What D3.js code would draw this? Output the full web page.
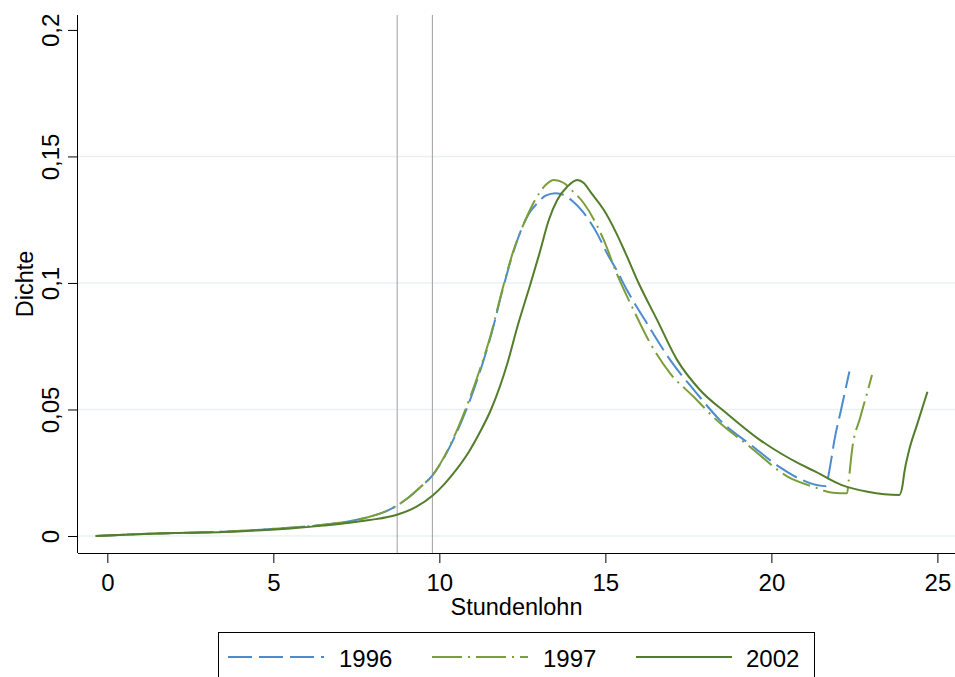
<!DOCTYPE html>
<html>
<head>
<meta charset="utf-8">
<script src="https://cdn.jsdelivr.net/npm/d3@7"></script>
<style>
  body { margin: 0; background: #fff; }
  text { font-family: "Liberation Sans", Arial, sans-serif; fill: #000; }
</style>
</head>
<body>
<div id="chart"></div>
<script>
const width = 955;
const height = 677;

// kernel density estimates
const years = ["1996", "1997", "2002"];
const colors = ["#4b8bce", "#7b9e3b", "#527d2a"];
const dashes = ["24,7", "30,6,2,6", null];

const wage1996 = [-0.35, 0.5, 1.5, 2.5, 3.5, 4.5, 5.5, 6.5, 7.3, 7.9, 8.5, 9.0, 9.4, 9.8, 10.4, 10.8, 11.2, 11.55, 11.9, 12.2, 12.45, 12.7, 12.95, 13.2, 13.5, 13.75, 14.0, 14.3, 14.75, 15.05, 15.3, 15.65, 16.25, 16.95, 17.75, 18.45, 19.45, 20.25, 20.65, 21.1, 21.65, 21.72, 21.8, 21.9, 22.1, 22.35];
const dens1996 = [0, 0.0005, 0.001, 0.0013, 0.0017, 0.0024, 0.0033, 0.0044, 0.0058, 0.0076, 0.0104, 0.0145, 0.019, 0.0241, 0.0375, 0.0495, 0.064, 0.079, 0.097, 0.111, 0.1205, 0.1275, 0.1315, 0.1345, 0.1355, 0.1348, 0.1325, 0.1285, 0.1196, 0.1117, 0.106, 0.0972, 0.0841, 0.0696, 0.0564, 0.0458, 0.0353, 0.0272, 0.024, 0.0212, 0.0197, 0.024, 0.03, 0.038, 0.05, 0.065];

const wage1997 = [-0.35, 0.5, 1.5, 2.5, 3.5, 4.5, 5.5, 6.5, 7.3, 7.9, 8.5, 9.0, 9.4, 9.8, 10.4, 10.8, 11.2, 11.55, 11.9, 12.2, 12.55, 12.85, 13.2, 13.45, 13.75, 14.0, 14.35, 14.95, 15.35, 15.85, 16.35, 16.95, 17.65, 18.35, 19.35, 20.5, 21.25, 21.85, 22.28, 22.33, 22.43, 22.68, 22.88, 23.03];
const dens1997 = [0, 0.0005, 0.001, 0.0013, 0.0017, 0.0024, 0.0033, 0.0044, 0.0058, 0.0076, 0.0104, 0.0145, 0.019, 0.0241, 0.038, 0.0505, 0.065, 0.0795, 0.0975, 0.1115, 0.1236, 0.132, 0.1387, 0.1407, 0.1395, 0.1365, 0.1315, 0.117, 0.1035, 0.0893, 0.0762, 0.0643, 0.0551, 0.0458, 0.0353, 0.0234, 0.0195, 0.0171, 0.0169, 0.022, 0.034, 0.047, 0.0564, 0.0636];

const wage2002 = [-0.35, 0.5, 1.5, 2.5, 3.5, 4.5, 5.5, 6.5, 7.3, 7.9, 8.7, 9.3, 9.8, 10.15, 10.5, 10.9, 11.2, 11.55, 12.05, 12.35, 12.75, 13.0, 13.3, 13.55, 13.85, 14.15, 14.35, 14.55, 14.95, 15.3, 15.6, 16.0, 16.55, 17.15, 17.85, 18.65, 19.65, 20.3, 20.85, 21.3, 22.1, 22.9, 23.85, 23.95, 24.0, 24.15, 24.4, 24.7];
const dens2002 = [0, 0.0005, 0.001, 0.0013, 0.0016, 0.0022, 0.003, 0.0041, 0.0052, 0.0063, 0.0083, 0.0115, 0.016, 0.0205, 0.026, 0.0335, 0.0405, 0.0498, 0.0683, 0.0827, 0.0999, 0.111, 0.125, 0.1328, 0.138, 0.1407, 0.1395, 0.136, 0.1289, 0.1205, 0.112, 0.1, 0.0856, 0.0698, 0.0577, 0.0485, 0.038, 0.0325, 0.0285, 0.0256, 0.0202, 0.0175, 0.0162, 0.02, 0.0248, 0.034, 0.0445, 0.057];

const xTicks = [0, 5, 10, 15, 20, 25];
const yTicks = [0, 0.05, 0.1, 0.15, 0.2];
const yGrid = [0, 0.05, 0.1, 0.15];
const refLines = [8.73, 9.79];

const wages = [wage1996, wage1997, wage2002];
const dens = [dens1996, dens1997, dens2002];

const plotL = 78, plotR = 955, plotT = 15, plotB = 553;

const svg = d3.select("#chart")
  .append("svg")
  .attr("width", width)
  .attr("height", height);

const x = d3.scaleLinear().domain([-0.883, 25.53]).range([plotL, plotR]);
const y = d3.scaleLinear().domain([-0.00672, 0.2059]).range([plotB, plotT]);

const fmt = d => String(d).replace(".", ",");

// grid
svg.append("g").selectAll("line")
  .data(yGrid)
  .enter().append("line")
  .attr("x1", plotL).attr("x2", plotR)
  .attr("y1", d => y(d)).attr("y2", d => y(d))
  .style("stroke", "#eaf0f3")
  .style("stroke-width", 1.5);

// reference lines
svg.append("g").selectAll("line")
  .data(refLines)
  .enter().append("line")
  .attr("x1", d => x(d)).attr("x2", d => x(d))
  .attr("y1", plotT).attr("y2", plotB)
  .style("stroke", "#a0a0a0")
  .style("stroke-width", 1);

// curves
const line = d3.line()
  .x(d => x(d[0]))
  .y(d => y(d[1]))
  .curve(d3.curveMonotoneX);

years.forEach((yr, i) => {
  const pts = wages[i].map((w, j) => [w, dens[i][j]]);
  svg.append("path")
    .datum(pts)
    .attr("d", line)
    .style("fill", "none")
    .style("stroke", colors[i])
    .style("stroke-width", 2)
    .style("stroke-dasharray", dashes[i]);
});

// axes
const xAxis = svg.append("g")
  .attr("transform", `translate(0,${plotB})`)
  .call(d3.axisBottom(x).tickValues(xTicks).tickSize(10).tickFormat(fmt));
xAxis.select(".domain").attr("d", `M${plotL},0.5H${plotR}`);
xAxis.selectAll("text")
  .style("font-size", "24px")
  .attr("y", 38)
  .attr("dy", 0);

const yAxis = svg.append("g")
  .attr("transform", `translate(${plotL},0)`)
  .call(d3.axisLeft(y).tickValues(yTicks).tickSize(10).tickFormat(fmt));
yAxis.select(".domain").attr("d", `M-0.5,${plotT}V${plotB}`);
yAxis.selectAll("text")
  .style("font-size", "24px")
  .attr("text-anchor", "middle")
  .attr("x", 0).attr("dy", 0)
  .attr("transform", "translate(-19,0) rotate(-90)");

svg.selectAll(".domain, .tick line").style("stroke", "#000");

svg.append("text")
  .attr("x", (plotL + plotR) / 2)
  .attr("y", 615)
  .attr("text-anchor", "middle")
  .style("font-size", "23.5px")
  .text("Stundenlohn");

svg.append("text")
  .attr("transform", `translate(33,${(plotT + plotB) / 2}) rotate(-90)`)
  .attr("text-anchor", "middle")
  .style("font-size", "23.5px")
  .text("Dichte");

// legend
const legend = svg.append("g").attr("class", "legend");
legend.append("rect")
  .attr("x", 218.5).attr("y", 632.5)
  .attr("width", 596).attr("height", 60)
  .style("fill", "#fff")
  .style("stroke", "#000");

const legX = [228, 432, 636];
const legTextX = [339, 543, 746];
years.forEach((yr, i) => {
  legend.append("line")
    .attr("x1", legX[i]).attr("x2", legX[i] + 96)
    .attr("y1", 657).attr("y2", 657)
    .style("stroke", colors[i])
    .style("stroke-width", 2)
    .style("stroke-dasharray", dashes[i]);
  legend.append("text")
    .attr("x", legTextX[i])
    .attr("y", 667)
    .style("font-size", "24px")
    .text(yr);
});
</script>
</body>
</html>
